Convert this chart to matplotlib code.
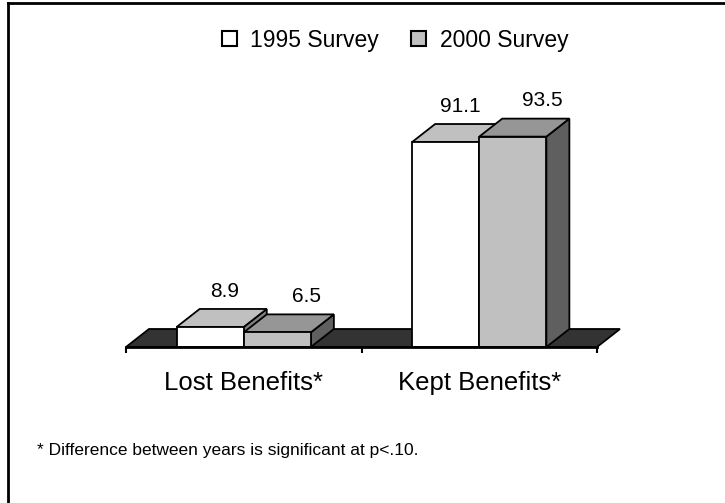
import numpy as np
import matplotlib.pyplot as plt
from matplotlib.patches import Polygon, Patch
from matplotlib.lines import Line2D

plt.rcParams['font.family'] = ['Liberation Sans', 'DejaVu Sans']

categories = ['Lost Benefits*', 'Kept Benefits*']
series = ['1995 Survey', '2000 Survey']
survey_1995 = [8.9, 91.1]
survey_2000 = [6.5, 93.5]
footnote = '* Difference between years is significant at p<.10.'

# face colours per series: front, top, side
faces = {
    '1995 Survey': ('#ffffff', '#c0c0c0', '#808080'),
    '2000 Survey': ('#c0c0c0', '#969696', '#5f5f5f'),
}

W, H = 725, 503
fig = plt.figure(figsize=(W / 100, H / 100), dpi=100)

# plot area: x in category units (0..2), y in percent (0..100)
ax = fig.add_axes([126 / W, (H - 347) / H, 471 / W, 225 / H])
ax.set_xlim(0, 2)
ax.set_ylim(0, 100)

dx = 23 / 235.5      # depth shift, category units
dy = 8.0             # depth shift, value units
bw = 0.285           # bar width
ec = 'black'
lw = 1.3

# floor
floor = Polygon([(0, 0), (2, 0), (2 + dx, dy), (dx, dy)], closed=True,
                facecolor='#333333', edgecolor=ec, lw=lw, zorder=1,
                clip_on=False)
ax.add_patch(floor)


def box(x0, v, cols, z):
    x1 = x0 + bw
    front = [(x0, 0), (x1, 0), (x1, v), (x0, v)]
    top = [(x0, v), (x1, v), (x1 + dx, v + dy), (x0 + dx, v + dy)]
    side = [(x1, 0), (x1 + dx, dy), (x1 + dx, v + dy), (x1, v)]
    for pts, c in ((side, cols[2]), (top, cols[1]), (front, cols[0])):
        ax.add_patch(Polygon(pts, closed=True, facecolor=c, edgecolor=ec,
                             lw=lw, joinstyle='miter', zorder=z,
                             clip_on=False))


label_dx = {'1995 Survey': 2, '2000 Survey': 13}
for i in range(len(categories)):
    c = i + 0.5
    for k, (name, vals) in enumerate(zip(series, [survey_1995, survey_2000])):
        x0 = c - bw + k * bw
        v = vals[i]
        box(x0, v, faces[name], 2 + 2 * i + k)
        ax.annotate(f'{v:.1f}', (x0 + bw / 2 + dx / 2, v + dy),
                    xytext=(label_dx[name], 6), textcoords='offset points',
                    ha='center', va='bottom', fontsize=15, zorder=10,
                    annotation_clip=False)

# category axis
for s in ['top', 'right', 'left']:
    ax.spines[s].set_visible(False)
ax.spines['bottom'].set_linewidth(2)
ax.spines['bottom'].set_zorder(20)
ax.set_yticks([])
ax.set_xticks([0, 1, 2])
ax.set_xticklabels([])
ax.tick_params(axis='x', which='major', length=4, width=1.5, direction='out')
ax.set_xticks([0.5, 1.5], minor=True)
ax.set_xticklabels(categories, minor=True, fontsize=18.5)
ax.tick_params(axis='x', which='minor', length=0, pad=17)
ax.patch.set_visible(False)

handles = [Patch(facecolor=faces[s][0], edgecolor='black', lw=1.5) for s in series]
fig.legend(handles, series, loc='center', bbox_to_anchor=(395 / W, 1 - 40 / H),
           ncol=2, frameon=False, fontsize=16.5, handlelength=0.65,
           handleheight=0.65, handletextpad=0.6, columnspacing=1.4)

fig.text(37 / W, 1 - 451 / H, footnote, fontsize=12.5, ha='left', va='center')

# chart border (top and left edges fall inside the image)
fig.add_artist(Line2D([8 / W, 1.0], [1 - 3 / H, 1 - 3 / H], color='black', lw=2))
fig.add_artist(Line2D([8 / W, 8 / W], [0, 1 - 3 / H], color='black', lw=2))

fig.savefig('out.png', dpi=100)
